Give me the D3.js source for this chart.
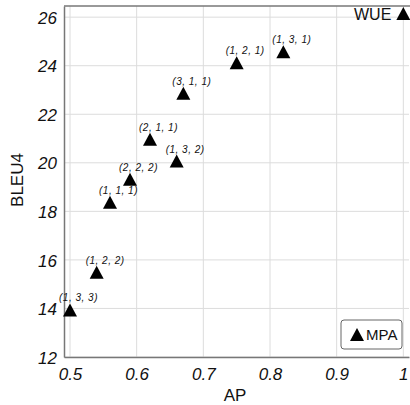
<!DOCTYPE html>
<html>
<head>
<meta charset="utf-8">
<script src="https://cdn.jsdelivr.net/npm/d3@7"></script>
<style>
  body { margin: 0; background: #fff; }
  #chart { width: 410px; height: 405px; }
  text { font-family: "Liberation Sans", Arial, sans-serif; fill: #111; }
</style>
</head>
<body>
<div id="chart"></div>
<script>
// data
const labels = ["(1, 3, 3)", "(1, 2, 2)", "(1, 1, 1)", "(2, 2, 2)", "(2, 1, 1)", "(1, 3, 2)", "(3, 1, 1)", "(1, 2, 1)", "(1, 3, 1)"];
const apValues = [0.50, 0.54, 0.56, 0.59, 0.62, 0.66, 0.67, 0.75, 0.82];
const bleuValues = [13.92, 15.47, 18.35, 19.3, 20.95, 20.05, 22.85, 24.1, 24.55];

const wueAP = 1.0;
const wueBLEU = 26.13;

const xTicks = [0.5, 0.6, 0.7, 0.8, 0.9, 1];
const yTicks = [12, 14, 16, 18, 20, 22, 24, 26];

const width = 410;
const height = 405;

const margin = { top: 6, left: 64, right: 1, bottom: 48 };

const svg = d3.select("#chart")
    .append("svg")
    .attr("width", width)
    .attr("height", height);

const xScale = d3.scaleLinear()
    .domain([0.491, 1.0085])
    .range([margin.left, width - margin.right]);

const yScale = d3.scaleLinear()
    .domain([12, 26.46])
    .range([height - margin.bottom, margin.top]);

// grid
svg.append("g")
    .selectAll("line")
    .data(xTicks)
    .enter()
    .append("line")
        .attr("x1", d => xScale(d))
        .attr("x2", d => xScale(d))
        .attr("y1", margin.top)
        .attr("y2", height - margin.bottom)
        .attr("stroke", "#dcdcdc")
        .attr("stroke-width", 1);

svg.append("g")
    .selectAll("line")
    .data(yTicks)
    .enter()
    .append("line")
        .attr("x1", margin.left)
        .attr("x2", width - margin.right)
        .attr("y1", d => yScale(d))
        .attr("y2", d => yScale(d))
        .attr("stroke", "#dcdcdc")
        .attr("stroke-width", 1);

// axes
const xAxis = svg.append("g")
    .attr("transform", `translate(0,${height - margin.bottom})`)
    .call(d3.axisBottom(xScale).tickValues(xTicks).tickSize(0).tickPadding(11).tickFormat(d3.format("")));

const yAxis = svg.append("g")
    .attr("transform", `translate(${margin.left},0)`)
    .call(d3.axisLeft(yScale).tickValues(yTicks).tickSize(0).tickPadding(7));

svg.selectAll(".domain").attr("stroke", "#777").attr("stroke-width", 1.5);
svg.selectAll(".tick text")
    .attr("font-family", "Liberation Sans, Arial, sans-serif")
    .attr("font-size", 17)
    .attr("font-style", "italic")
    .attr("fill", "#111");
yAxis.selectAll(".tick text").attr("dy", "0.36em");

// top border
svg.append("line")
    .attr("x1", margin.left)
    .attr("x2", width)
    .attr("y1", margin.top)
    .attr("y2", margin.top)
    .attr("stroke", "#777")
    .attr("stroke-width", 1.5);

// triangles
const tri = "M0,-7L7,6L-7,6Z";

svg.append("g")
    .selectAll("path")
    .data(apValues)
    .enter()
    .append("path")
        .attr("d", tri)
        .attr("transform", (d, i) => `translate(${xScale(d)},${yScale(bleuValues[i])})`)
        .attr("fill", "#000");

svg.append("g")
    .selectAll("text")
    .data(labels)
    .enter()
    .append("text")
        .attr("x", (d, i) => xScale(apValues[i]) - 11)
        .attr("y", (d, i) => yScale(bleuValues[i]) - 9)
        .attr("font-size", 10)
        .attr("font-style", "italic")
        .attr("letter-spacing", 0.5)
        .text(d => d);

// WUE point
svg.append("path")
    .attr("d", tri)
    .attr("transform", `translate(${xScale(wueAP)},${yScale(wueBLEU)})`)
    .attr("fill", "#000");

svg.append("text")
    .attr("x", xScale(wueAP) - 12)
    .attr("y", yScale(wueBLEU) + 6)
    .attr("text-anchor", "end")
    .attr("font-size", 16)
    .text("WUE");

// legend
const legend = svg.append("g").attr("transform", "translate(341,320)");
legend.append("rect")
    .attr("width", 61)
    .attr("height", 29)
    .attr("rx", 3)
    .attr("fill", "#fff")
    .attr("stroke", "#666")
    .attr("stroke-width", 1);
legend.append("path")
    .attr("d", tri)
    .attr("transform", "translate(16,15)")
    .attr("fill", "#000");
legend.append("text")
    .attr("x", 25)
    .attr("y", 20)
    .attr("font-size", 15)
    .text("MPA");

// axis labels
svg.append("text")
    .attr("x", 235)
    .attr("y", 401)
    .attr("text-anchor", "middle")
    .attr("font-size", 17)
    .text("AP");

svg.append("text")
    .attr("transform", "rotate(-90)")
    .attr("x", -180)
    .attr("y", 23)
    .attr("text-anchor", "middle")
    .attr("font-size", 17)
    .text("BLEU4");
</script>
</body>
</html>
